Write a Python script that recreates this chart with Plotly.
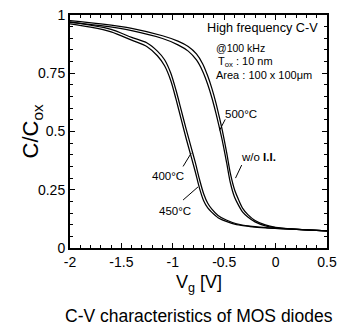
import plotly.graph_objects as go

# ---- data ----
v_left = [-2.0, -1.8, -1.6, -1.4, -1.25, -1.15, -1.08, -1.02, -0.97, -0.92, -0.87, -0.82,
          -0.78, -0.74, -0.70, -0.66, -0.62, -0.56, -0.48, -0.38, -0.25, -0.1, 0.1, 0.3, 0.5]
c_400 = [0.962, 0.948, 0.928, 0.892, 0.864, 0.825, 0.782, 0.719, 0.641, 0.555, 0.470, 0.390,
         0.325, 0.256, 0.203, 0.172, 0.153, 0.130, 0.114, 0.100, 0.092, 0.086, 0.082, 0.078, 0.074]
c_450 = [0.970, 0.956, 0.938, 0.904, 0.880, 0.845, 0.808, 0.751, 0.679, 0.595, 0.510, 0.430,
         0.365, 0.294, 0.233, 0.192, 0.167, 0.140, 0.120, 0.104, 0.094, 0.088, 0.082, 0.078, 0.074]

v_right = [-2.0, -1.7, -1.4, -1.1, -0.95, -0.85, -0.77, -0.71, -0.66, -0.62, -0.58, -0.545,
           -0.51, -0.475, -0.44, -0.40, -0.36, -0.32, -0.27, -0.2, -0.1, 0.0, 0.15, 0.3, 0.5]
c_500 = [0.968, 0.954, 0.933, 0.899, 0.872, 0.845, 0.807, 0.759, 0.702, 0.645, 0.578, 0.513,
         0.443, 0.363, 0.280, 0.219, 0.183, 0.154, 0.133, 0.112, 0.095, 0.087, 0.082, 0.078, 0.074]
c_wo = [0.976, 0.962, 0.943, 0.911, 0.888, 0.865, 0.833, 0.791, 0.738, 0.685, 0.622, 0.557,
        0.487, 0.407, 0.320, 0.251, 0.207, 0.170, 0.143, 0.118, 0.099, 0.089, 0.082, 0.078, 0.074]

x_tickvals = [-2, -1.5, -1, -0.5, 0, 0.5]
x_ticktext = ["-2", "-1.5", "-1", "-0.5", "0", "0.5"]
y_tickvals = [0, 0.25, 0.5, 0.75, 1]
y_ticktext = ["0", "0.25", "0.5", "0.75", "1"]

FONT = "Liberation Sans, Arial, sans-serif"

fig = go.Figure()
for name, xs, ys in [("400°C", v_left, c_400), ("450°C", v_left, c_450),
                     ("500°C", v_right, c_500), ("w/o I.I.", v_right, c_wo)]:
    fig.add_trace(go.Scatter(x=xs, y=ys, mode="lines", name=name,
                             line=dict(color="black", width=1.25, shape="spline", smoothing=0.8),
                             showlegend=False))

axis_common = dict(showline=True, linecolor="black", linewidth=2, mirror="ticks",
                   ticks="inside", ticklen=5, tickwidth=1.3, tickcolor="black",
                   showgrid=False, zeroline=False, automargin=False,
                   tickfont=dict(family=FONT, size=14, color="black"))

fig.update_xaxes(range=[-2, 0.5], tickvals=x_tickvals, ticktext=x_ticktext,
                 minor=dict(dtick=0.1, ticks="inside", ticklen=3, tickwidth=1, tickcolor="black"),
                 **axis_common)
fig.update_yaxes(range=[0, 1], tickvals=y_tickvals, ticktext=y_ticktext,
                 minor=dict(dtick=0.05, ticks="inside", ticklen=3, tickwidth=1, tickcolor="black"),
                 **axis_common)

ann = []
def txt(x, y, t, size=11, xanchor="left"):
    ann.append(dict(x=x, y=y, xref="x", yref="y", text=t, showarrow=False,
                    xanchor=xanchor, yanchor="middle",
                    font=dict(family=FONT, size=size, color="black")))

txt(0.43, 0.944, "High frequency C-V", size=12.7, xanchor="right")
txt(-0.60, 0.858, "@100 kHz", size=10.5)
txt(-0.58, 0.798, "T<sub>ox</sub> : 10 nm", size=11)
txt(-0.60, 0.742, "Area : 100 x 100μm", size=11)
txt(-0.51, 0.577, "500°C", size=11.5)
txt(-0.36, 0.389, "w/o <b>I.I.</b>", size=11.5)
txt(-1.22, 0.31, "400°C", size=11.5)
txt(-1.15, 0.16, "450°C", size=11.5)

def paper_txt(x, y, t, size, angle=0):
    ann.append(dict(x=x, y=y, xref="paper", yref="paper", showarrow=False, text=t,
                    xanchor="center", yanchor="middle", textangle=angle,
                    font=dict(family=FONT, size=size, color="black")))

paper_txt(-0.148, 0.5, "C/C<sub>ox</sub>", 22, angle=-90)
paper_txt(0.5, -0.152, "V<sub>g</sub> [V]", 18)
paper_txt(0.5, -0.292, "C-V characteristics of MOS diodes", 17.5)

shapes = []
def leader(x0, y0, x1, y1):
    shapes.append(dict(type="line", xref="x", yref="y", x0=x0, y0=y0, x1=x1, y1=y1,
                       line=dict(color="black", width=1)))

leader(-0.49, 0.552, -0.545, 0.505)
leader(-0.33, 0.356, -0.39, 0.30)
leader(-0.90, 0.35, -0.82, 0.408)
leader(-0.90, 0.206, -0.755, 0.262)

fig.update_layout(width=340, height=329, margin=dict(l=70, r=13, t=15, b=81),
                  paper_bgcolor="white", plot_bgcolor="white",
                  annotations=ann, shapes=shapes)

fig.write_html("out.html")
